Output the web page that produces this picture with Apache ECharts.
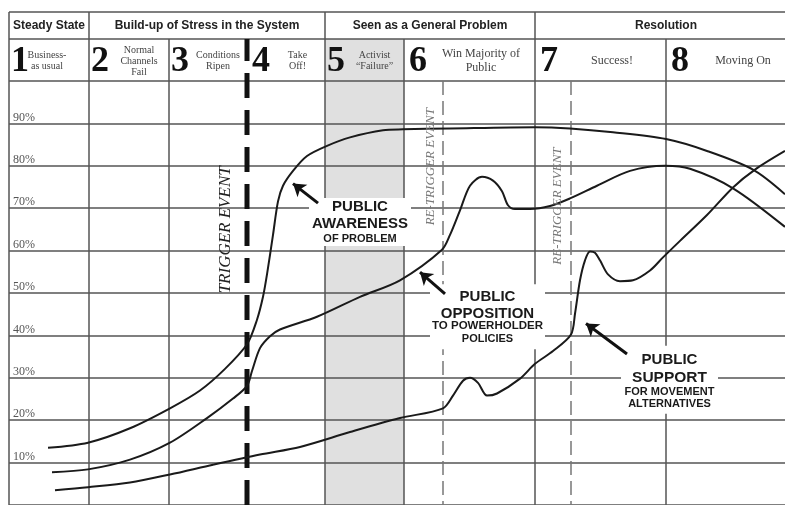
<!DOCTYPE html>
<html><head><meta charset="utf-8">
<script src="https://cdn.jsdelivr.net/npm/echarts@6/dist/echarts.min.js"></script>
<style>html,body{margin:0;padding:0;background:#fff}#c{width:785px;height:505px}</style>
</head><body><div id="c"></div>
<script>
// ---- data ----
const yTicks = [10, 20, 30, 40, 50, 60, 70, 80, 90];
const phaseNames = ['Steady State', 'Build-up of Stress in the System', 'Seen as a General Problem', 'Resolution'];
const phaseEdges = [0, 80, 316, 526, 788];
const stageNums = ['1', '2', '3', '4', '5', '6', '7', '8'];
const stageNames = ['Business-\nas usual', 'Normal\nChannels\nFail', 'Conditions\nRipen', 'Take\nOff!',
  'Activist\n\u201CFailure\u201D', 'Win Majority of\nPublic', 'Success!', 'Moving On'];
const stageEdges = [0, 80, 160, 238, 316, 395, 526, 657, 788];
const shadedStage = [316, 395];
const triggerX = 238;
const retriggerX = [434, 562];
const awareness = [[39,13.5],[79,14.7],[121,18.1],[161,22.8],[191,27.0],[216,32.1],[238,37.9],[248,43.7],[254,49.1],
  [258,54.4],[264,63.7],[269,71.6],[274,75.3],[284,78.8],[298,82.3],[318,84.7],[341,86.7],[374,88.4],[394,88.6],
  [441,88.8],[526,89.1],[561,88.8],[604,87.9],[657,86.3],[698,83.5],[744,79.1],[776,73.3]];
const opposition = [[43,7.7],[79,8.4],[121,10.7],[161,14.7],[198,20.5],[224,25.1],[238,28.1],[243,31.6],[251,37.0],
  [261,39.8],[271,41.4],[308,44.4],[351,49.1],[391,53.0],[433,60.2],[441,63.7],[451,69.5],[461,75.3],[473,77.4],
  [484,76.5],[493,74.0],[499,70.7],[506,69.8],[521,69.8],[541,70.5],[561,72.3],[588,75.3],[621,78.8],[656,80.0],
  [681,79.3],[724,74.7],[776,65.6]];
const support = [[46,3.5],[79,4.2],[121,5.3],[161,7.2],[204,9.5],[251,11.9],[291,13.7],[341,17.2],[391,20.5],
  [434,22.8],[444,25.8],[454,29.3],[461,30.0],[469,28.8],[478,25.8],[488,26.3],[511,29.8],[526,33.3],[544,36.3],
  [562,40.2],[566,45.1],[571,53.0],[576,57.7],[581,59.8],[586,59.5],[591,57.7],[599,54.4],[611,52.8],[624,53.0],
  [641,55.3],[654,58.4],[671,62.3],[698,68.4],[724,74.9],[746,79.1],[776,83.5]];
const curveLabels = [['PUBLIC', 'AWARENESS', 'OF PROBLEM'], ['PUBLIC', 'OPPOSITION', 'TO POWERHOLDER', 'POLICIES'],
  ['PUBLIC', 'SUPPORT', 'FOR MOVEMENT', 'ALTERNATIVES']];
const triggerText = 'TRIGGER EVENT';
const retriggerText = 'RE-TRIGGER EVENT';

// ---- chart ----
const chart = echarts.init(document.getElementById('c'), null, {renderer: 'canvas'});
const gridColor = '#555';
const curveStyle = {color: '#1a1a1a', width: 2};
const mkCurve = (name, data) => ({type: 'line', name, data, smooth: 0.3, symbol: 'none', z: 3,
  lineStyle: curveStyle, silent: true});

chart.setOption({
  animation: false,
  backgroundColor: '#fff',
  grid: {left: 9, top: 81, width: 776, height: 430},
  xAxis: {type: 'value', min: 0, max: 776, show: false},
  yAxis: {type: 'value', min: 0, max: 100, interval: 10, z: 1,
    axisLine: {show: false}, axisTick: {show: false},
    splitLine: {show: true, lineStyle: {color: gridColor, width: 1.5}},
    axisLabel: {inside: true, margin: 4, verticalAlign: 'bottom', color: '#555',
      fontFamily: 'Liberation Serif', fontSize: 12,
      formatter: v => yTicks.includes(v) ? v + '%' : ''}},
  series: [
    {type: 'line', data: [], z: 0, silent: true,
      markArea: {z: 0, silent: true, itemStyle: {color: '#e0e0e0'},
        data: [[{xAxis: shadedStage[0]}, {xAxis: shadedStage[1]}]]}},
    mkCurve('Public Awareness', awareness),
    mkCurve('Public Opposition', opposition),
    mkCurve('Public Support', support),
    {type: 'line', data: [], z: 12, silent: true,
      markLine: {z: 12, silent: true, symbol: ['none', 'arrow'], symbolSize: 12,
        label: {show: false}, lineStyle: {color: '#111', width: 3, type: 'solid'},
        data: [
          [{coord: [309, 71.2]}, {coord: [284, 75.8]}],
          [{coord: [436, 49.8]}, {coord: [411, 54.9]}],
          [{coord: [618, 35.6]}, {coord: [577, 42.8]}]
        ]}}
  ]
});

const P = (x, y) => chart.convertToPixel({gridIndex: 0}, [x, y]);
const X = x => P(x, 50)[0];
const Y = y => P(0, y)[1];
const topY = 12, rowY = 39, hdrB = Y(100), botY = 506, rightX = 785;
const g = [];
const line = (x1, y1, x2, y2, style, z) => g.push({type: 'line', z: z || 1, silent: true,
  shape: {x1, y1, x2, y2}, style: Object.assign({stroke: gridColor, lineWidth: 1.5}, style || {})});

// shaded header cell
g.push({type: 'rect', z: 0, silent: true, shape: {x: X(shadedStage[0]), y: rowY, width: X(shadedStage[1]) - X(shadedStage[0]), height: hdrB - rowY},
  style: {fill: '#e0e0e0'}});
// header horizontals
line(X(0), topY, rightX, topY);
line(X(0), rowY, rightX, rowY);
// verticals
stageEdges.forEach(e => {
  if (e === triggerX || e >= 776) return;
  const isPhase = phaseEdges.includes(e);
  line(X(e), isPhase ? topY : rowY, X(e), botY);
});
// trigger line
line(X(triggerX), rowY, X(triggerX), botY, {stroke: '#111', lineWidth: 5, lineDash: [25, 12], lineDashOffset: 3}, 2);
// retrigger lines
retriggerX.forEach(rx => line(X(rx), hdrB, X(rx), botY, {stroke: '#777', lineWidth: 1.5, lineDash: [14, 6]}, 2));

// phase titles
phaseNames.forEach((n, i) => {
  const cx = (X(phaseEdges[i]) + Math.min(X(phaseEdges[i + 1]), 797)) / 2;
  g.push({type: 'text', z: 3, silent: true, x: cx, y: (topY + rowY) / 2 + 0.5,
    style: {text: n, font: 'bold 12px "Liberation Sans"', fill: '#222', align: 'center', verticalAlign: 'middle'}});
});
// stage numbers and names
stageNums.forEach((num, i) => {
  const l = X(stageEdges[i]), r = X(stageEdges[i + 1]);
  const wide = r - l > 100;
  const off = (wide || stageEdges[i] === triggerX) ? 5 : 2;
  const numW = 18;
  g.push({type: 'text', z: 3, silent: true, x: l + off, y: 62,
    style: {text: num, font: 'bold 36px "Liberation Serif"', fill: '#111', align: 'left', verticalAlign: 'middle'}});
  let cx = (l + off + numW + r) / 2;
  if (i === 0) cx -= 12;
  g.push({type: 'text', z: 3, silent: true, x: cx, y: 61,
    style: {text: stageNames[i], font: (wide ? '12px' : '10px') + ' "Liberation Serif"', fill: '#444',
      align: 'center', verticalAlign: 'middle', lineHeight: wide ? 14 : 11}});
});

// rotated event labels
const rot = (txt, x, y, font, fill) => {
  const p = P(x, y);
  g.push({type: 'text', z: 4, silent: true, x: p[0], y: p[1], rotation: Math.PI / 2,
    style: {text: txt, font, fill, align: 'center', verticalAlign: 'middle'}});
};
rot(triggerText, 217, 64.9, 'italic 17px "Liberation Serif"', '#222');
rot(retriggerText, 422, 79.8, 'italic 13px "Liberation Serif"', '#777');
rot(retriggerText, 548.5, 70.5, 'italic 13px "Liberation Serif"', '#777');

// curve labels with white boxes
const boxes = [
  {at: [351, 66.74], w: 102, h: 48, offs: [-15, 2, 16.5], sizes: [15, 15, 11]},
  {at: [478.5, 44.42], w: 115, h: 65, offs: [-20, -3, 9, 22], sizes: [15, 15, 11.5, 11]},
  {at: [660.5, 29.53], w: 97, h: 68, offs: [-20, -2, 12, 24], sizes: [15, 15.5, 11, 11]}
];
boxes.forEach((b, i) => {
  const p = P(b.at[0], b.at[1]);
  g.push({type: 'rect', z: 10, silent: true, shape: {x: p[0] - b.w / 2, y: p[1] - b.h / 2, width: b.w, height: b.h},
    style: {fill: '#fff'}});
  curveLabels[i].forEach((t, j) => {
    g.push({type: 'text', z: 11, silent: true, x: p[0], y: p[1] + b.offs[j],
      style: {text: t, font: 'bold ' + b.sizes[j] + 'px "Liberation Sans"', fill: '#1a1a1a',
        align: 'center', verticalAlign: 'middle'}});
  });
});

chart.setOption({graphic: {elements: g}});
</script>
</body></html>
